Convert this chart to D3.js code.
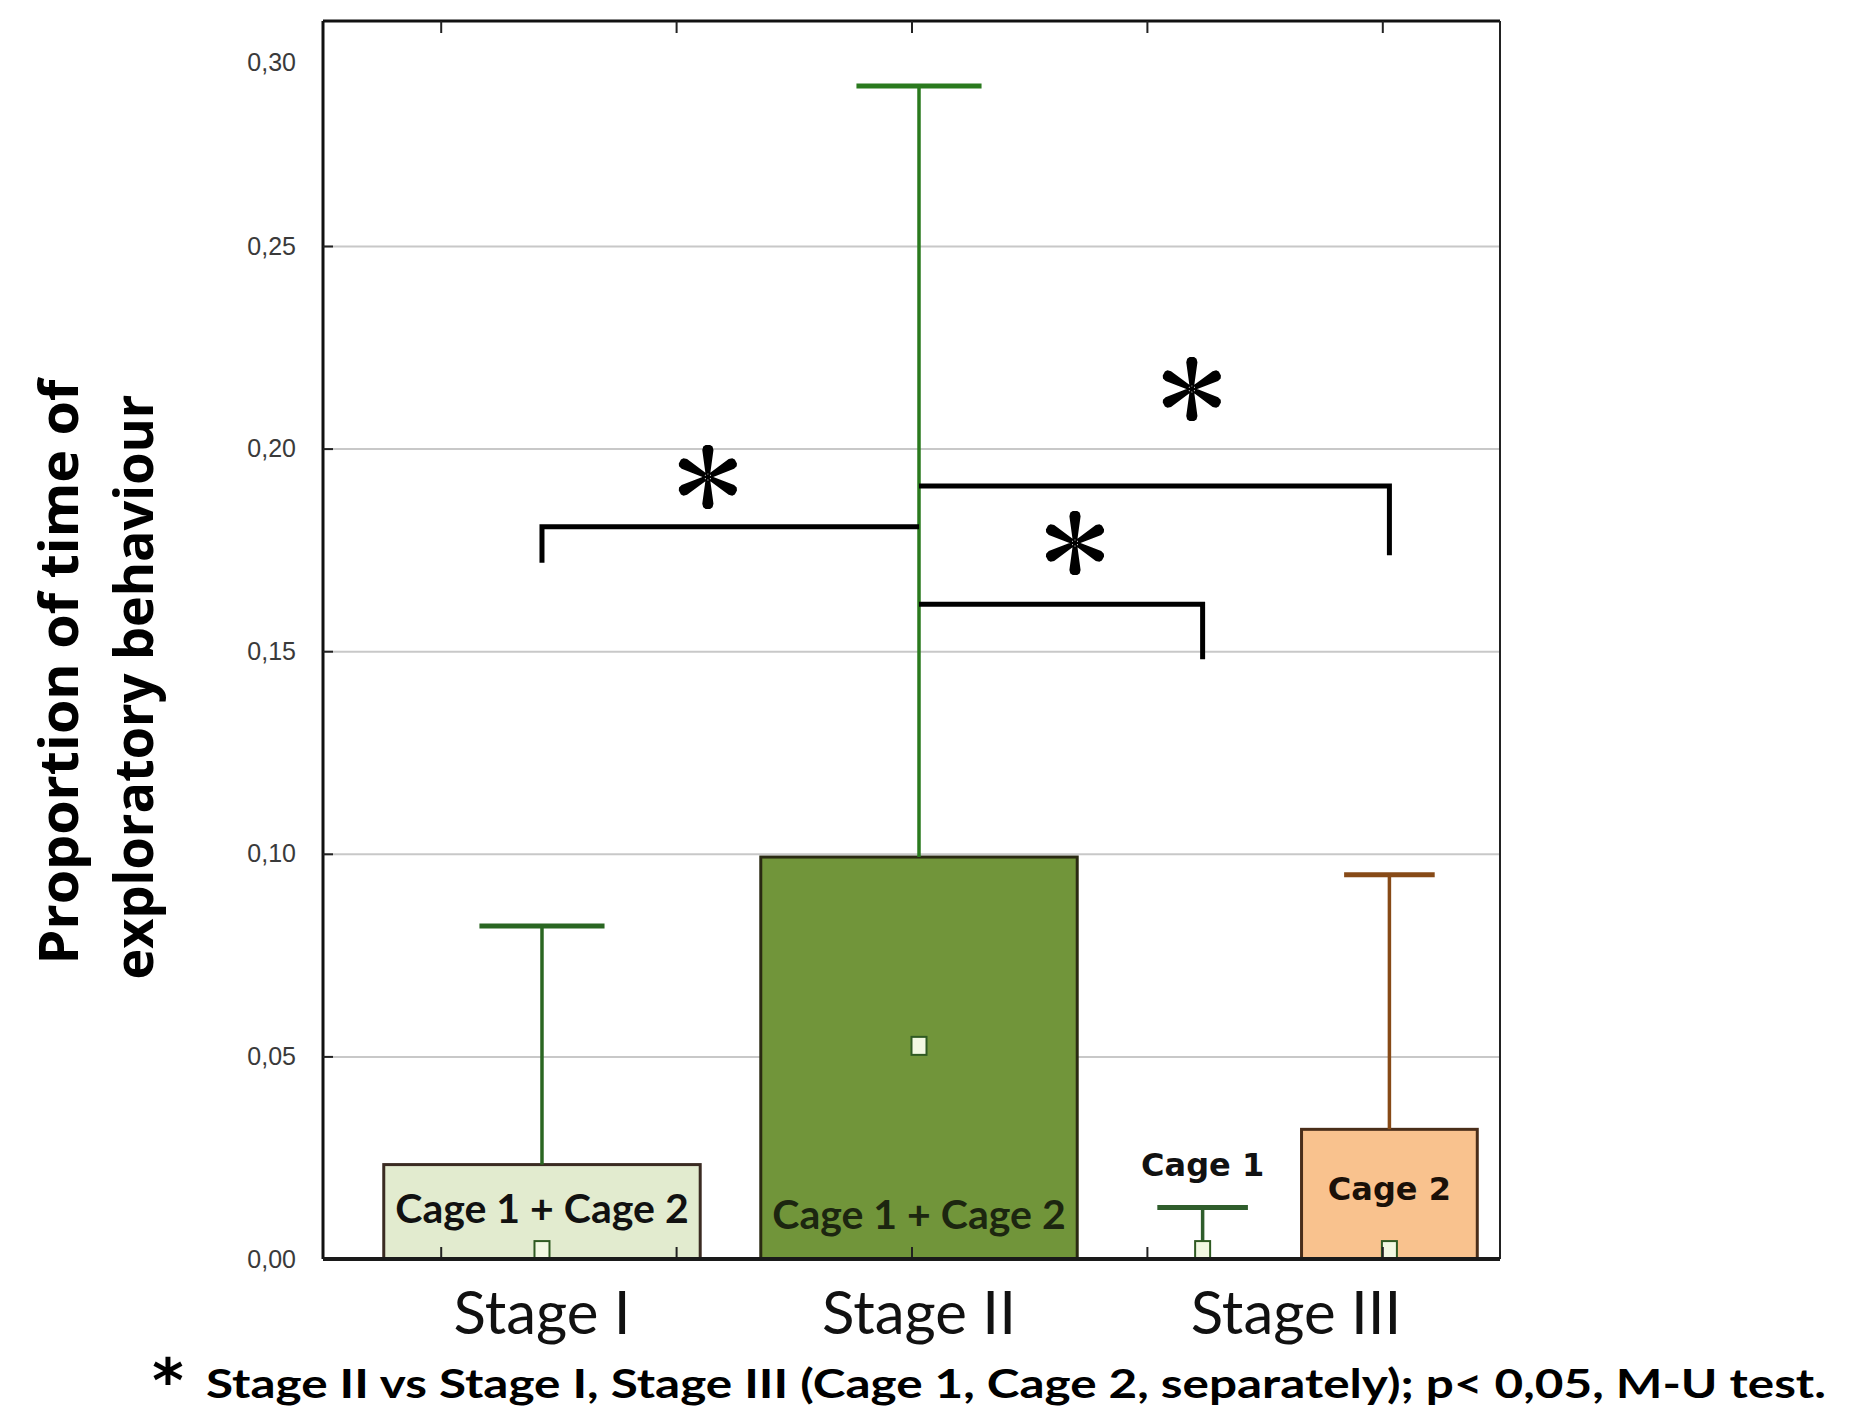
<!DOCTYPE html>
<html>
<head>
<meta charset="utf-8">
<script src="https://cdn.jsdelivr.net/npm/d3@7"></script>
<style>
  body { margin: 0; background: #fff; }
  svg { display: block; }
</style>
</head>
<body>
<script>
// canvas and plot frame magic numbers
var w = 1871;
var h = 1418;
var plotLeft = 323, plotRight = 1500, plotTop = 21, plotBottom = 1259;
// the original y axis is a little stretched above 0,25
var y25 = 246, y30 = 62;

// ---- data ----
var stages = ["Stage I", "Stage II", "Stage III"];
var groups = ["Stage I", "Stage II", "Cage 1", "Cage 2"];
var groupStage = ["Stage I", "Stage II", "Stage III", "Stage III"];
var means = [0.0233, 0.0992, 0.0, 0.0320];          // bar height
var whiskerTops = [0.0822, 0.2935, 0.0127, 0.0948];  // upper whisker
var medians = [0.0022, 0.0526, 0.0022, 0.0022];      // small square marker
var barLabels = ["Cage 1 + Cage 2", "Cage 1 + Cage 2", "Cage 1", "Cage 2"];
var yTicks = [0, 0.05, 0.10, 0.15, 0.20, 0.25, 0.30];
var xTicks = [1, 2, 3, 4, 5];
// significance brackets, all start at Stage II
var bracketTo = ["Stage I", "Cage 2", "Cage 1"];
var bracketLevel = [0.1807, 0.1908, 0.1616];
var bracketLegEnd = [0.1718, 0.1737, 0.1480];
var starLevel = [0.1930, 0.2147, 0.1767];

// styles per group
var fills = ["#e2ebcf", "#71953a", "none", "#f9c28e"];
var borders = ["#3a2b22", "#2a2a12", "none", "#4a2e1a"];
var whiskerColors = ["#2a6622", "#2a7a1e", "#2f5d2c", "#874a17"];
var labelColors = ["#111", "#1c2610", "#111", "#1a1008"];
// where the star sits along each bracket (0 = Stage II end)
var starAlong = [0.56, 0.58, 0.55];

var rows = groups.map(function(g, i) {
    return {group: g, stage: groupStage[i], mean: means[i], top: whiskerTops[i],
            median: medians[i], label: barLabels[i], i: i};
});

var svg = d3.select("body")
            .append("svg")
            .attr("width", w)
            .attr("height", h)
            .style("font-family", "Lato, sans-serif");

// scales
var y = d3.scaleLinear()
    .domain([0, 0.25, 0.30])
    .range([plotBottom, y25, y30]);

var x = d3.scaleBand()
    .domain(stages)
    .range([plotLeft + 35, plotRight - 20])
    .paddingInner(0.024);

var xCage = d3.scaleBand()
    .domain(["Cage 1", "Cage 2"])
    .range([x("Stage III"), x("Stage III") + x.bandwidth()])
    .paddingInner(0.03);

var xTick = d3.scalePoint()
    .domain(xTicks)
    .range([plotLeft, plotRight])
    .padding(0.5);

function cx(d) {
    if (d.stage == "Stage III") return xCage(d.group) + xCage.bandwidth() / 2;
    return x(d.stage) + x.bandwidth() / 2;
}
function barW(d) {
    if (d.stage == "Stage III") return xCage.bandwidth() * 0.97;
    return x.bandwidth() * 0.86;
}
function capW(d) {
    if (d.stage == "Stage III") return xCage.bandwidth() * 0.5;
    return x.bandwidth() * 0.34;
}
function centerOf(name) {
    var r = rows.filter(function(d) { return d.group == name; })[0];
    return cx(r);
}

// gridlines
var gridTicks = yTicks.filter(function(d) { return d > 0 && d < 0.3; });
svg.append("g")
    .attr("transform", "translate(" + plotLeft + ",0)")
    .call(d3.axisRight(y).tickValues(gridTicks).tickSize(plotRight - plotLeft).tickFormat(""))
    .call(function(g) { g.select(".domain").remove(); })
    .call(function(g) { g.selectAll("line").attr("stroke", "#c8c8c8").attr("stroke-width", 2); });

// y tick labels
svg.append("g")
    .attr("transform", "translate(" + plotLeft + ",0)")
    .call(d3.axisLeft(y).tickValues(yTicks).tickSize(0).tickPadding(27)
          .tickFormat(function(d) { return d3.format(".2f")(d).replace(".", ","); }))
    .call(function(g) { g.select(".domain").remove(); })
    .call(function(g) {
        g.selectAll("text")
         .attr("font-family", "'Liberation Sans Narrow', 'Liberation Sans', sans-serif")
         .attr("font-size", 25)
         .attr("fill", "#3a3a3a");
    });

// bars
svg.append("g").selectAll("rect")
    .data(rows.filter(function(d) { return d.mean > 0; }))
    .enter().append("rect")
      .attr("x", function(d) { return cx(d) - barW(d) / 2; })
      .attr("y", function(d) { return y(d.mean); })
      .attr("width", barW)
      .attr("height", function(d) { return y(0) - y(d.mean); })
      .attr("fill", function(d) { return fills[d.i]; })
      .attr("stroke", function(d) { return borders[d.i]; })
      .attr("stroke-width", 3);

// whiskers
var wh = svg.append("g").selectAll("g")
    .data(rows)
    .enter().append("g")
      .attr("stroke", function(d) { return whiskerColors[d.i]; })
      .attr("stroke-width", 3.5);
wh.append("line")
    .attr("x1", cx).attr("x2", cx)
    .attr("y1", function(d) { return d.mean > 0 ? y(d.mean) : y(d.median) - 9; })
    .attr("y2", function(d) { return y(d.top); });
wh.append("line")
    .attr("x1", function(d) { return cx(d) - capW(d) / 2; })
    .attr("x2", function(d) { return cx(d) + capW(d) / 2; })
    .attr("y1", function(d) { return y(d.top); })
    .attr("y2", function(d) { return y(d.top); })
    .attr("stroke-width", 5);

// median markers
svg.append("g").selectAll("rect")
    .data(rows)
    .enter().append("rect")
      .attr("x", function(d) { return cx(d) - 7.5; })
      .attr("y", function(d) { return y(d.median) - 9; })
      .attr("width", 15)
      .attr("height", 18)
      .attr("fill", "#f2f8e2")
      .attr("stroke", "#2f5a22")
      .attr("stroke-width", 2);

// labels inside / above the bars
var labelLift = [36, 30, 0, 59];
svg.append("g").selectAll("text")
    .data(rows)
    .enter().append("text")
      .attr("x", cx)
      .attr("y", function(d) {
          if (d.group == "Cage 1") return y(d.top) - 32;
          return plotBottom - labelLift[d.i];
      })
      .attr("text-anchor", "middle")
      .attr("font-family", function(d) {
          return d.stage == "Stage III" ? "'DejaVu Sans', sans-serif" : "Lato, sans-serif";
      })
      .attr("font-weight", "bold")
      .attr("font-size", function(d) { return d.stage == "Stage III" ? 32 : 41; })
      .attr("fill", function(d) { return labelColors[d.i]; })
      .text(function(d) { return d.label; });

// frame
svg.append("line")
    .attr("x1", plotLeft).attr("x2", plotLeft).attr("y1", plotTop).attr("y2", plotBottom)
    .attr("stroke", "#111").attr("stroke-width", 3);
svg.append("line")
    .attr("x1", plotLeft).attr("x2", plotRight).attr("y1", plotTop).attr("y2", plotTop)
    .attr("stroke", "#111").attr("stroke-width", 3);
svg.append("line")
    .attr("x1", plotRight).attr("x2", plotRight).attr("y1", plotTop).attr("y2", plotBottom)
    .attr("stroke", "#222").attr("stroke-width", 2);

// inner ticks on left, top and bottom
svg.append("g")
    .attr("transform", "translate(" + plotLeft + ",0)")
    .call(d3.axisRight(y).tickValues(gridTicks).tickSize(10).tickFormat(""))
    .call(function(g) { g.select(".domain").remove(); })
    .call(function(g) { g.selectAll("line").attr("stroke", "#222").attr("stroke-width", 2); });
svg.append("g")
    .attr("transform", "translate(0," + plotTop + ")")
    .call(d3.axisBottom(xTick).tickSize(12).tickFormat(""))
    .call(function(g) { g.select(".domain").remove(); })
    .call(function(g) { g.selectAll("line").attr("stroke", "#222").attr("stroke-width", 2); });
svg.append("g")
    .attr("transform", "translate(0," + plotBottom + ")")
    .call(d3.axisTop(xTick).tickSize(12).tickFormat(""))
    .call(function(g) { g.select(".domain").remove(); })
    .call(function(g) { g.selectAll("line").attr("stroke", "#222").attr("stroke-width", 2); });

// bottom axis line and stage labels
svg.append("g")
    .attr("transform", "translate(0," + plotBottom + ")")
    .call(d3.axisBottom(x).tickSize(0).tickPadding(32))
    .call(function(g) {
        g.select(".domain").attr("d", "M" + plotLeft + ",0H" + plotRight)
         .attr("stroke", "#1a1a1a").attr("stroke-width", 4);
    })
    .call(function(g) {
        g.selectAll("text")
         .attr("font-family", "Lato, sans-serif")
         .attr("font-size", 60)
         .attr("fill", "#111");
    });

// significance brackets
var stageIIx = centerOf("Stage II");
var bracketRows = bracketTo.map(function(t, i) {
    return {to: t, level: bracketLevel[i], leg: bracketLegEnd[i], star: starLevel[i], along: starAlong[i]};
});
svg.append("g").selectAll("path")
    .data(bracketRows)
    .enter().append("path")
      .attr("d", function(d) {
          var tx = centerOf(d.to);
          return "M" + tx + "," + y(d.leg) + "V" + y(d.level) + "H" + stageIIx;
      })
      .attr("fill", "none")
      .attr("stroke", "#000")
      .attr("stroke-width", 5);

// six armed asterisk like the Calibri one: arms widen towards blunt tips
var starSymbol = {
    draw: function(ctx, size) {
        var r = Math.sqrt(size);
        var arms = [[0, -1], [0, 1], [-0.875, -0.484], [0.875, -0.484],
                    [-0.875, 0.484], [0.875, 0.484]];
        // [distance along arm, half width]
        var profile = [[0, 0.06], [0.84, 0.175], [0.95, 0.145], [1.0, 0.07]];
        arms.forEach(function(a) {
            var dx = a[0], dy = a[1];
            var px = -dy, py = dx;
            profile.forEach(function(p, k) {
                var fx = dx * p[0] * r + px * p[1] * r, fy = dy * p[0] * r + py * p[1] * r;
                if (k == 0) ctx.moveTo(fx, fy); else ctx.lineTo(fx, fy);
            });
            profile.slice().reverse().forEach(function(p) {
                ctx.lineTo(dx * p[0] * r - px * p[1] * r, dy * p[0] * r - py * p[1] * r);
            });
            ctx.closePath();
        });
        ctx.moveTo(r * 0.1, 0);
        ctx.arc(0, 0, r * 0.1, 0, 2 * Math.PI);
    }
};
svg.append("g").selectAll("path")
    .data(bracketRows)
    .enter().append("path")
      .attr("transform", function(d) {
          var mx = stageIIx + d.along * (centerOf(d.to) - stageIIx);
          return "translate(" + mx + "," + y(d.star) + ")";
      })
      .attr("d", d3.symbol().type(starSymbol).size(32 * 32))
      .attr("fill", "#000");

// y axis title
var yTitle = ["Proportion of time of", "exploratory behaviour"];
var yTitleX = [78, 153];
var yTitleY = [672, 687];
svg.append("g").selectAll("text")
    .data(yTitle)
    .enter().append("text")
      .attr("transform", function(d, i) { return "translate(" + yTitleX[i] + "," + yTitleY[i] + ") rotate(-90)"; })
      .attr("text-anchor", "middle")
      .attr("font-family", "'Open Sans', sans-serif")
      .attr("font-weight", "bold")
      .attr("font-size", 54)
      .attr("textLength", 585)
      .attr("lengthAdjust", "spacingAndGlyphs")
      .attr("fill", "#000")
      .text(function(d) { return d; });

// footnote
svg.append("text")
    .attr("x", 168)
    .attr("y", 1402)
    .attr("text-anchor", "middle")
    .attr("font-family", "'DejaVu Sans', sans-serif")
    .attr("font-weight", "bold")
    .attr("font-size", 60)
    .text("*");
svg.append("text")
    .attr("x", 206)
    .attr("y", 1398)
    .attr("font-family", "Lato, sans-serif")
    .attr("font-weight", "bold")
    .attr("font-size", 40)
    .attr("textLength", 1620)
    .attr("lengthAdjust", "spacingAndGlyphs")
    .text("Stage II vs Stage I, Stage III (Cage 1, Cage 2, separately); p< 0,05, M-U test.");
</script>
</body>
</html>
